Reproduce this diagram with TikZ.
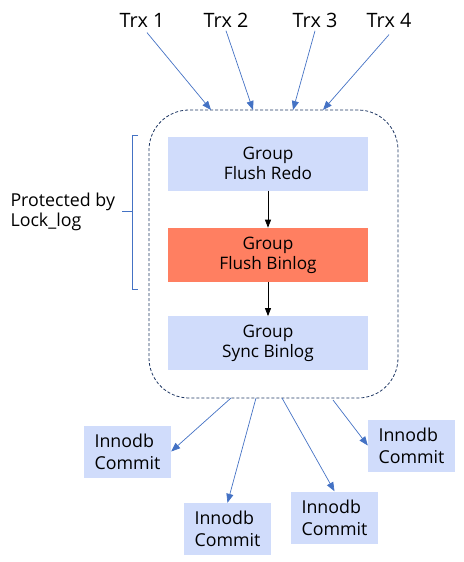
\documentclass[tikz,border=0pt]{standalone}
\usepackage{fontspec}
\setmainfont{Open Sans}
\usetikzlibrary{positioning,arrows.meta}

\definecolor{stageblue}{HTML}{D0DCFB}
\definecolor{stageorange}{HTML}{FF7F61}
\definecolor{linkblue}{HTML}{4472C4}
\definecolor{framenavy}{HTML}{203864}

\begin{document}
\begin{tikzpicture} [x=1pt, y=-1pt, node distance=37pt,
  stage/.style={rectangle, fill=stageblue, text centered, align=center, minimum width=200pt, minimum height=54pt, font=\fontsize{17.2}{20}\selectfont},
  commit/.style={rectangle, fill=stageblue, align=left, minimum width=87pt, minimum height=52pt, font=\fontsize{17.8}{22}\selectfont},
  trx/.style={font=\fontsize{19.8}{22}\selectfont},
  link/.style={-{Triangle[length=9pt,width=7pt]}, linkblue, line width=0.7pt}]
\useasboundingbox (0,0) rectangle (463,562);
{
  %% Transactions
  \node [trx] (t1) at (142,20) {Trx 1};
  \node [trx] (t2) at (226,20) {Trx 2};
  \node [trx] (t3) at (315,20) {Trx 3};
  \node [trx] (t4) at (389,20) {Trx 4};
  % Commit queue
  \node [draw=framenavy, dash pattern=on 3pt off 2pt, rounded corners=40pt, line width=0.8pt, minimum width=249pt, minimum height=288pt] (frame) at (273.5,254) {};
  \node [stage] (redo) at (268,163.5) {Group\\Flush Redo};
  \node [stage, fill=stageorange, below=of redo] (binlog) {Group\\Flush Binlog};
  \node [stage, below=of binlog, yshift=3pt] (sync) {Group\\Sync Binlog};
  \draw [-{Triangle[length=8pt,width=6pt]}, line width=0.8pt] (redo) -- (binlog);
  \draw [-{Triangle[length=8pt,width=6pt]}, line width=0.8pt] (binlog) -- (sync);
  % Lock
  \draw [linkblue, line width=0.8pt] (138,135) -- (132,135) -- (132,289) -- (138,289);
  \draw [linkblue, line width=0.8pt] (132,211) -- (122,211);
  \node [align=left, anchor=west, font=\fontsize{17.8}{20}\selectfont] (lock) at (7,212) {Protected by\\Lock\_log};
  % Commits
  \node [commit] (c1) at (127.5,451.5) {Innodb\\Commit};
  \node [commit] (c2) at (227.5,529) {Innodb\\Commit};
  \node [commit] (c3) at (334.5,517.5) {Innodb\\Commit};
  \node [commit] (c4) at (411.5,445.5) {Innodb\\Commit};
  % Draw edges
  \coordinate (in1) at (211,110);
  \coordinate (in2) at (253,110);
  \coordinate (in3) at (293,110);
  \coordinate (in4) at (323,110);
  \coordinate (out1) at (231,398);
  \coordinate (out2) at (256,398);
  \coordinate (out3) at (282,398);
  \coordinate (out4) at (333,400);
  \draw [link] (t1.south) ++(5,2) -- (in1);
  \draw [link] (t2.south) -- (in2);
  \draw [link] (t3.south) -- (in3);
  \draw [link] (t4.south) ++(0,4) -- (in4);
  \draw [link] (out1) -- (c1.east);
  \draw [link] (out2) -- (c2.north);
  \draw [link] (out3) -- (c3.north);
  \draw [link] (out4) -- (c4.west);
}
\end{tikzpicture}
\end{document}
